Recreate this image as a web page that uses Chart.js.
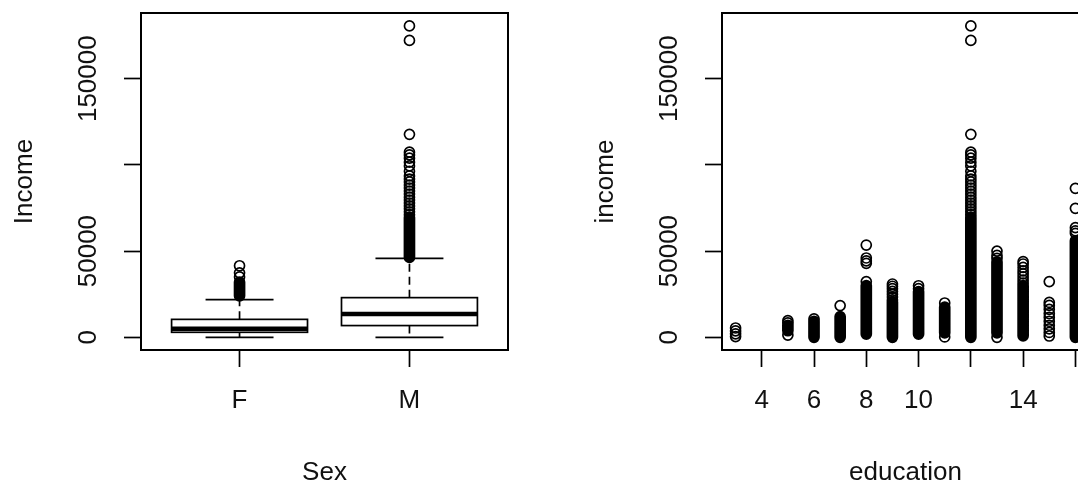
<!DOCTYPE html>
<html>
<head>
<meta charset="utf-8">
<script src="https://cdn.jsdelivr.net/npm/chart.js@4"></script>
<style>
  html, body { margin: 0; padding: 0; background: #fff; overflow: hidden; }
  #wrap { position: relative; width: 1078px; height: 484px; overflow: hidden; }
  canvas { position: absolute; top: 0; }
  #sexChart { left: 0; }
  #eduChart { left: 581px; }
</style>
</head>
<body>
<div id="wrap">
  <canvas id="sexChart" width="581" height="484"></canvas>
  <canvas id="eduChart" width="581" height="484"></canvas>
</div>
<script>
// ---- shared income axis ----
const incomeTicks = [0, 50000, 100000, 150000];
const incomeTickLabels = ['0', '50000', '', '150000'];

// ---- left panel: income by sex (boxplot) ----
const sexLabels = ['F', 'M'];
const whiskerLow = [0, 0];
const boxQ1 = [2900, 6800];
const boxMedian = [5000, 13500];
const boxQ3 = [10400, 23000];
const whiskerHigh = [21800, 45800];
// solid runs of overlapping outliers, and the single circles
const sexDenseLow = [24000, 46300];
const sexDenseHigh = [32000, 69500];
const sexOutliers = [
    [35000, 37400, 41500],
    [71100, 72800, 74500, 76200, 77900, 79600, 81300, 83100, 84800, 86600, 88300, 90100,
     91800, 93600, 96300, 99400, 101600, 103900, 105800, 107400, 117700, 172200, 180600]
];

// ---- right panel: income by years of education ----
const eduLevels = [3, 5, 6, 7, 8, 9, 10, 11, 12, 13, 14, 15, 16];
const eduTicks = [4, 6, 8, 10, 12, 14, 16];
const eduTickLabels = ['4', '6', '8', '10', '', '14', ''];
const eduDenseLow = [null, 3800, 0, 0, 1800, 0, 1800, 2500, 0, 2500, 800, null, 0];
const eduDenseHigh = [null, 7000, 9200, 12000, 30000, 20500, 26500, 17500, 69500, 43800, 30000, null, 56000];
const eduPoints = [
    [5400, 3700, 2000, 400],
    [9700, 8400, 1300],
    [10700],
    [18400],
    [53500, 46000, 44300, 42900, 32300],
    [30900, 29600, 28200, 26600, 25000, 23300, 21700],
    [29900, 28200],
    [19900, 200],
    [180600, 172200, 117700, 107400, 105800, 103900, 101600, 99400, 96300, 93600, 91800, 90100,
     88300, 86600, 84800, 83100, 81300, 79600, 77900, 76200, 74500, 72800, 71100],
    [50000, 47500, 45800, 0],
    [43900, 42500, 40500, 38500, 36800, 35000, 33200, 31500],
    [32300, 20200, 18500, 16200, 13800, 11600, 9300, 7000, 4900, 2800, 750],
    [86400, 74800, 63600, 61700, 60300]
];

Chart.defaults.font.family = "'Liberation Sans', Arial, sans-serif";
Chart.defaults.font.size = 26;
Chart.defaults.color = '#111';

const INK = '#000';

// runs of points drawn as one thick round-capped stroke per group
function denseData(xs, lows, highs) {
    const out = [];
    xs.forEach((x, i) => {
        if (lows[i] === null) return;
        out.push({ x: x, y: lows[i] }, { x: x, y: highs[i] }, { x: x, y: null });
    });
    return out;
}

function pointData(xs, groups) {
    const out = [];
    xs.forEach((x, i) => groups[i].forEach(v => out.push({ x: x, y: v })));
    return out;
}

function datasets(dense, points) {
    return [{
        type: 'scatter',
        data: points,
        pointStyle: 'circle',
        pointRadius: 5,
        pointHoverRadius: 5,
        pointBorderWidth: 1.7,
        borderColor: INK,
        backgroundColor: 'rgba(0,0,0,0)'
    }, {
        type: 'line',
        data: dense,
        borderColor: INK,
        borderWidth: 11.7,
        borderCapStyle: 'round',
        pointRadius: 0,
        spanGaps: false,
        fill: false
    }];
}

function incomeAxis(title) {
    return {
        type: 'linear',
        min: -7370,
        max: 188100,
        afterBuildTicks: s => { s.ticks = incomeTicks.map(v => ({ value: v })); },
        afterFit: s => { s.width = 141; },
        ticks: {
            autoSkip: false,
            minRotation: 90,
            maxRotation: 90,
            crossAlign: 'center',
            padding: -8.6,
            callback: (v, i) => incomeTickLabels[i]
        },
        grid: { drawOnChartArea: false, drawTicks: true, tickLength: 17, tickWidth: 1.7, tickColor: INK },
        border: { display: false },
        title: { display: true, text: title, padding: { top: 9, bottom: 0 } }
    };
}

function bottomAxis(title, min, max, values, labels) {
    return {
        type: 'linear',
        min: min,
        max: max,
        afterBuildTicks: s => { s.ticks = values.map(v => ({ value: v })); },
        afterFit: s => { s.height = 134; },
        ticks: {
            autoSkip: false,
            maxRotation: 0,
            padding: 18,
            callback: (v, i) => labels[i]
        },
        grid: { drawOnChartArea: false, drawTicks: true, tickLength: 17, tickWidth: 1.7, tickColor: INK },
        border: { display: false },
        title: { display: true, text: title, padding: { top: 0, bottom: -4 } }
    };
}

// box around the plotting region
const framePlugin = {
    id: 'frame',
    afterDraw(chart) {
        const { ctx, chartArea: a } = chart;
        ctx.save();
        ctx.strokeStyle = INK;
        ctx.lineWidth = 2;
        ctx.strokeRect(a.left, a.top, a.right - a.left, a.bottom - a.top);
        ctx.restore();
    }
};

// boxes, medians, whiskers and staples, placed with the chart's scales
const boxPlugin = {
    id: 'boxes',
    beforeDatasetsDraw(chart) {
        const { ctx, scales: { x, y } } = chart;
        ctx.save();
        ctx.strokeStyle = INK;
        sexLabels.forEach((lab, i) => {
            const pos = i + 1;
            const cx = x.getPixelForValue(pos);
            const bl = x.getPixelForValue(pos - 0.4), br = x.getPixelForValue(pos + 0.4);
            const sl = x.getPixelForValue(pos - 0.2), sr = x.getPixelForValue(pos + 0.2);
            const yq1 = y.getPixelForValue(boxQ1[i]);
            const yq3 = y.getPixelForValue(boxQ3[i]);
            const ymed = y.getPixelForValue(boxMedian[i]);
            const ylo = y.getPixelForValue(whiskerLow[i]);
            const yhi = y.getPixelForValue(whiskerHigh[i]);

            // whiskers
            ctx.lineWidth = 1.7;
            ctx.setLineDash([8, 5]);
            ctx.beginPath();
            ctx.moveTo(cx, yq3); ctx.lineTo(cx, yhi);
            ctx.moveTo(cx, yq1); ctx.lineTo(cx, ylo);
            ctx.stroke();
            ctx.setLineDash([]);

            // staples
            ctx.beginPath();
            ctx.moveTo(sl, yhi); ctx.lineTo(sr, yhi);
            ctx.moveTo(sl, ylo); ctx.lineTo(sr, ylo);
            ctx.stroke();

            // box
            ctx.fillStyle = '#fff';
            ctx.fillRect(bl, yq3, br - bl, yq1 - yq3);
            ctx.strokeRect(bl, yq3, br - bl, yq1 - yq3);

            // median
            ctx.lineWidth = 4.5;
            ctx.beginPath();
            ctx.moveTo(bl, ymed); ctx.lineTo(br, ymed);
            ctx.stroke();
        });
        ctx.restore();
    }
};

const common = {
    responsive: false,
    animation: false,
    devicePixelRatio: 1,
    layout: { padding: { top: 13, right: 73, left: 0, bottom: 0 } },
    plugins: { legend: { display: false }, tooltip: { enabled: false } },
    events: []
};

const sexX = sexLabels.map((s, i) => i + 1);

new Chart(document.getElementById('sexChart'), {
    type: 'scatter',
    data: { datasets: datasets(denseData(sexX, sexDenseLow, sexDenseHigh), pointData(sexX, sexOutliers)) },
    options: Object.assign({}, common, {
        scales: {
            x: bottomAxis('Sex', 0.42, 2.58, sexX, sexLabels),
            y: incomeAxis('Income')
        }
    }),
    plugins: [boxPlugin, framePlugin]
});

new Chart(document.getElementById('eduChart'), {
    type: 'scatter',
    data: { datasets: datasets(denseData(eduLevels, eduDenseLow, eduDenseHigh), pointData(eduLevels, eduPoints)) },
    options: Object.assign({}, common, {
        scales: {
            x: bottomAxis('education', 2.48, 16.52, eduTicks, eduTickLabels),
            y: incomeAxis('income')
        }
    }),
    plugins: [framePlugin]
});
</script>
</body>
</html>
